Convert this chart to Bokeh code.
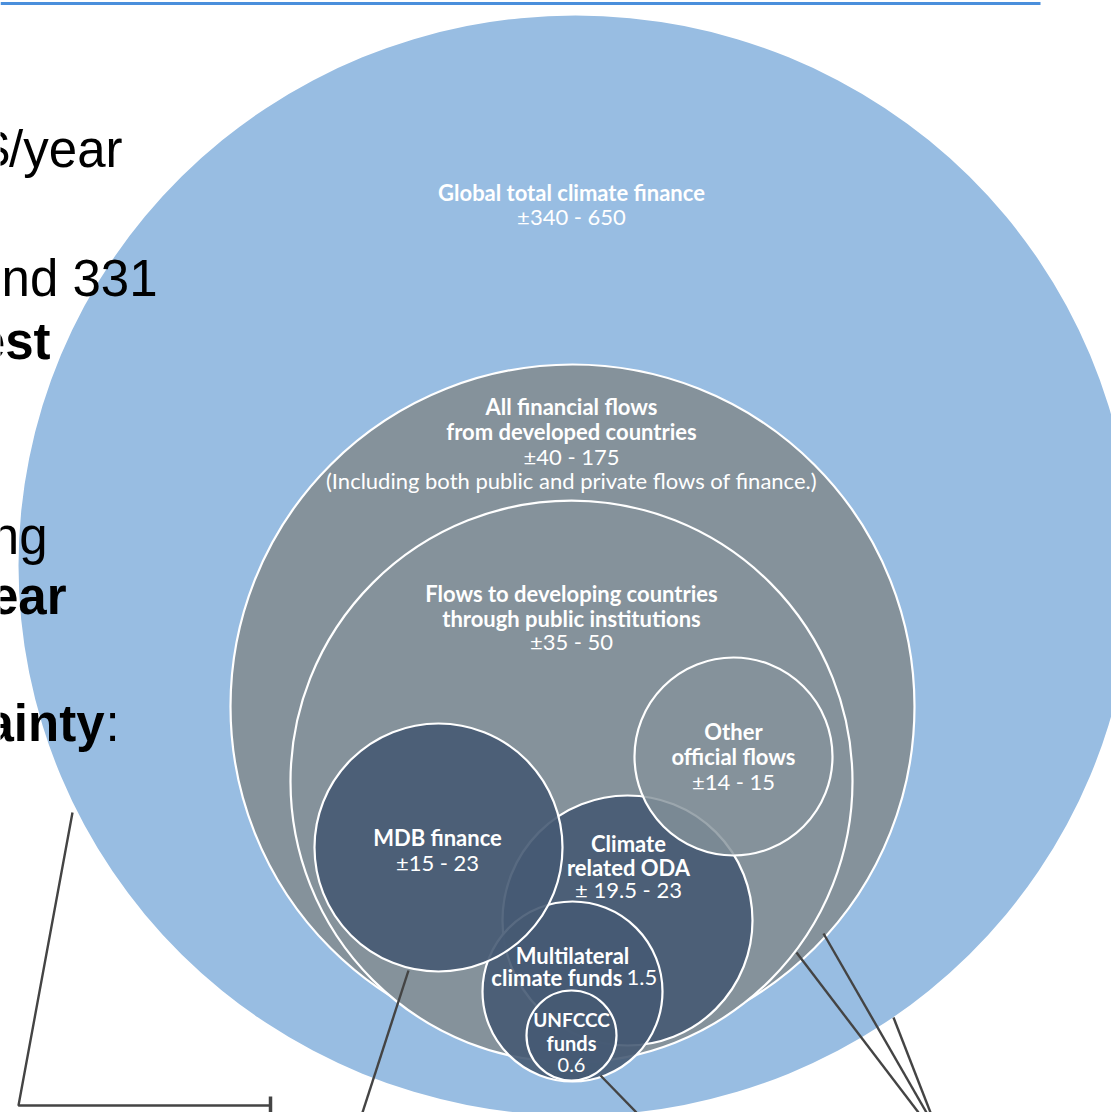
from bokeh.plotting import figure
from bokeh.core.properties import value
from bokeh.embed import file_html
from bokeh.resources import INLINE

# ---- data: circle labels and value ranges (USD bn / year) ----
names = ["Global total climate finance",
         "All financial flows\nfrom developed countries",
         "Flows to developing countries\nthrough public institutions",
         "Other\nofficial flows",
         "MDB finance",
         "Climate\nrelated ODA",
         "Multilateral\nclimate funds",
         "UNFCCC\nfunds"]
ranges = ["±340 - 650", "±40 - 175", "±35 - 50", "±14 - 15",
          "±15 - 23", "± 19.5 - 23", "1.5", "0.6"]
note = "(Including both public and private flows of finance.)"

left_fragments = ["$/year", "nd 331", "est", "ng", "ear", "ainty"]
left_bold = [False, False, True, False, True, True]

# ---- layout (pixel space) ----
W, H = 1111, 1112
BLUE, GRAY, DARK = "#98bde2", "#85929b", "#465a73"

p = figure(width=W, height=H, x_range=(0, W), y_range=(H, 0),
           min_border=0, toolbar_location=None, output_backend="svg")
p.axis.visible = False
p.grid.visible = False
p.outline_line_color = None
p.background_fill_color = "white"
p.border_fill_color = "white"

# top rule
p.line([0, 1040], [3, 3], line_color="#4a8fdc", line_width=3)

# big outer circle
p.ellipse(x=[575], y=[565], width=[1114], height=[1100],
          fill_color=BLUE, line_color=None)

# nested circles: x, y, r, fill, alpha (draw order)
circ_x = [572, 571, 627, 572, 438, 733, 571]
circ_y = [706, 781, 920, 991, 847, 756, 1035]
circ_r = [342, 281, 125, 90, 124, 99, 45]
circ_fill = [GRAY, GRAY, DARK, DARK, DARK, GRAY, DARK]
circ_alpha = [1.0, 1.0, 0.9, 0.9, 0.9, 0.82, 0.9]
for x, y, r, f, a in zip(circ_x, circ_y, circ_r, circ_fill, circ_alpha):
    p.circle(x=[x], y=[y], radius=[r], fill_color=f, fill_alpha=a,
             line_color="white", line_width=2.2)

# leader lines
lead_xs = [[72, 18, 270], [408, 362], [600, 636], [796, 918], [823, 926], [893, 930]]
lead_ys = [[812, 1105, 1105], [970, 1112], [1075, 1112], [952, 1112], [933, 1112], [1017, 1112]]
p.multi_line(xs=lead_xs, ys=lead_ys, line_color="#444444", line_width=2.4)
p.line([270, 270], [1096, 1112], line_color="#444444", line_width=3.5)

FONT = value("Lato")

def label(x, y, txt, bold=True, size="22px", align="center"):
    p.text(x=[x], y=[y], text=[txt], text_align=align, text_baseline="middle",
           text_font=FONT, text_font_size=size,
           text_font_style="bold" if bold else "normal",
           text_color="white")

# Global
label(571, 192, names[0])
label(571, 216, ranges[0], bold=False)
# All financial flows
t = names[1].split("\n")
label(571, 406, t[0]); label(571, 431, t[1])
label(571, 456, ranges[1], bold=False)
label(571, 480, note, bold=False)
# Flows to developing
t = names[2].split("\n")
label(571, 593, t[0]); label(571, 618, t[1])
label(571, 641, ranges[2], bold=False)
# Other official flows
t = names[3].split("\n")
label(733, 731, t[0]); label(733, 756, t[1])
label(733, 781, ranges[3], bold=False)
# MDB
label(437, 837, names[4])
label(437, 862, ranges[4], bold=False)
# ODA
t = names[5].split("\n")
label(628, 843, t[0]); label(628, 867, t[1])
label(628, 889, ranges[5], bold=False)
# Multilateral
t = names[6].split("\n")
label(572, 955, t[0])
label(622, 977, t[1], align="right")
label(626, 977, ranges[6], bold=False, align="left")
# UNFCCC
t = names[7].split("\n")
label(571, 1019, t[0], size="19px"); label(571, 1042, t[1], size="20px")
label(571, 1064, ranges[7], bold=False, size="20px")

# clipped slide text on the left (the slide continues beyond the crop)
frag_x = [122, 157, 50, 47, 66, 104]
frag_y = [149, 278, 341, 536, 596, 723]
for fx, fy, txt, b in zip(frag_x, frag_y, left_fragments, left_bold):
    p.text(x=[fx], y=[fy], text=[txt], text_align="right", text_baseline="alphabetic",
           text_font=value("Liberation Sans"), text_font_size="51px",
           text_font_style="bold" if b else "normal", text_color="black")
p.text(x=[105], y=[723], text=[":"], text_align="left", text_baseline="alphabetic",
       text_font=value("Liberation Sans"), text_font_size="51px", text_color="black")

open("out.html", "w").write(file_html(p, INLINE))
